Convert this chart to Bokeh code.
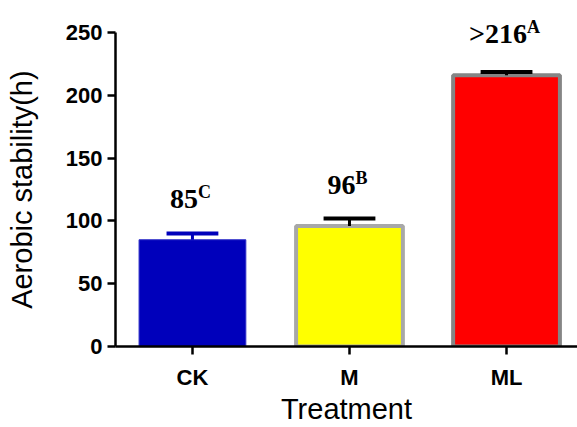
from bokeh.plotting import figure
from bokeh.models import FixedTicker, Range1d, ColumnDataSource, LabelSet
from bokeh.embed import file_html
from bokeh.resources import INLINE

# ---- data ----
treatments = ["CK", "M", "ML"]
stability = [85, 96, 216]
error_up = [5, 6, 2.5]
value_labels = ["85", "96", ">216"]
letters = ["C", "B", "A"]
y_ticks = [0, 50, 100, 150, 200, 250]

# ---- styles ----
fill_colors = ["#0000BB", "#FFFF00", "#FF0000"]
edge_colors = ["#3030C8", "#A8A8A8", "#858585"]
edge_widths = [1, 4, 4]
error_colors = ["#0000BB", "#000000", "#000000"]

SANS = "Liberation Sans"
SERIF = "Liberation Serif"
NUM_PX = 28
SUP_PX = 18

xs = list(range(1, len(treatments) + 1))
tops = [v + e for v, e in zip(stability, error_up)]
half_cap = 0.165


def serif_bold_width(s, px):
    w = {">": 0.570, "A": 0.722, "B": 0.667, "C": 0.722}
    return sum(w.get(c, 0.5) for c in s) * px


num_w = [serif_bold_width(s, NUM_PX) for s in value_labels]
sup_w = [serif_bold_width(s, SUP_PX) for s in letters]
anchor = [(a - b) / 2 - 2 for a, b in zip(num_w, sup_w)]

src = ColumnDataSource(dict(
    x=xs, top=stability, err_top=tops,
    cap_l=[x - half_cap for x in xs], cap_r=[x + half_cap for x in xs],
    fill=fill_colors, edge=edge_colors, ew=edge_widths, ecol=error_colors,
    num=value_labels, sup=letters, anchor=anchor,
))

p = figure(width=577, height=427, output_backend="svg", toolbar_location=None,
           x_range=Range1d(0.51, 3.452), y_range=Range1d(0, 275.5),
           min_border_left=115, min_border_right=0, min_border_top=0,
           min_border_bottom=81)
p.outline_line_color = None
p.grid.visible = False
p.background_fill_color = "white"
p.border_fill_color = "white"

p.vbar(x="x", top="top", bottom=0, width=0.68, source=src,
       fill_color="fill", line_color="edge", line_width="ew")
p.segment(x0="x", y0="top", x1="x", y1="err_top", source=src,
          line_color="ecol", line_width=3)
p.segment(x0="cap_l", y0="err_top", x1="cap_r", y1="err_top", source=src,
          line_color="ecol", line_width=4)

nums = LabelSet(x="x", y="top", text="num", source=src, x_offset="anchor",
                y_offset=32, text_align="right", text_baseline="alphabetic",
                text_font=SERIF, text_font_style="bold",
                text_font_size=f"{NUM_PX}px", text_color="black")
sups = LabelSet(x="x", y="top", text="sup", source=src, x_offset="anchor",
                y_offset=42, text_align="left", text_baseline="alphabetic",
                text_font=SERIF, text_font_style="bold",
                text_font_size=f"{SUP_PX}px", text_color="black")
p.add_layout(nums)
p.add_layout(sups)

for ax in (p.xaxis[0], p.yaxis[0]):
    ax.axis_line_width = 2.5
    ax.axis_line_color = "black"
    ax.major_tick_line_width = 2.5
    ax.major_tick_line_color = "black"
    ax.major_tick_out = 8
    ax.major_tick_in = 0
    ax.minor_tick_line_color = None
    ax.major_label_text_font = SANS
    ax.major_label_text_font_style = "bold"
    ax.major_label_text_font_size = "22px"
    ax.major_label_text_color = "black"
    ax.axis_label_text_font = SANS
    ax.axis_label_text_font_style = "normal"
    ax.axis_label_text_color = "black"

p.xaxis.ticker = FixedTicker(ticks=xs)
p.xaxis.major_label_overrides = {x: t for x, t in zip(xs, treatments)}
p.xaxis.major_label_standoff = 10
p.xaxis.axis_label = "Treatment"
p.xaxis.axis_label_text_font_size = "29px"
p.xaxis.axis_label_standoff = 0

p.yaxis.ticker = FixedTicker(ticks=y_ticks)
p.yaxis.bounds = (0, 250)
p.yaxis.major_label_standoff = 5
# trailing no-break spaces centre the visible title on the 0-250 axis
p.yaxis.axis_label = "Aerobic stability(h)" + "\u00a0" * 4
p.yaxis.axis_label_text_font_size = "29px"
p.yaxis.axis_label_standoff = 25

open("out.html", "w").write(file_html(p, INLINE))
